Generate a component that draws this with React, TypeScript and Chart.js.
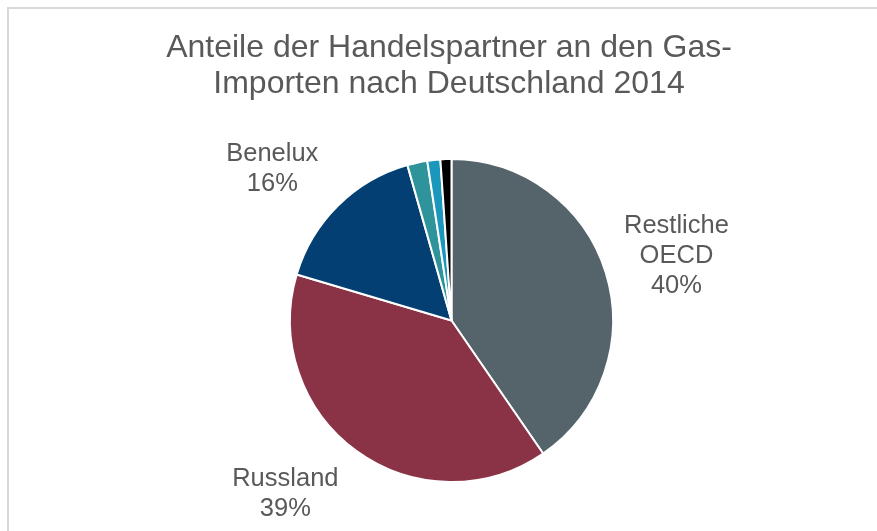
import React, { useEffect, useRef } from "react";
import { Chart, registerables } from "chart.js";

Chart.register(...registerables);

const titleLines = ["Anteile der Handelspartner an den Gas-", "Importen nach Deutschland 2014"];
const categories = ["Restliche OECD", "Russland", "Benelux", "Sonstige A", "Sonstige B", "Sonstige C"];
const labelLines = [["Restliche", "OECD"], ["Russland"], ["Benelux"], null, null, null];
const shares = [40.4, 39.2, 16.0, 2.0, 1.3, 1.1];
const sliceColors = ["#55636B", "#8B3346", "#033F72", "#2E939B", "#1A97BA", "#000000"];
// label placement relative to each slice's mid angle: angle shift (deg), distance beyond radius (px)
const labelPlacement = [
  { shift: 1.3, offset: 72.5 },
  { shift: 7.7, offset: 79 },
  { shift: -5.2, offset: 73 },
  null,
  null,
  null,
];

const FONT = '"Liberation Sans", Arial, sans-serif';
const TEXT_COLOR = "#595959";

const framePlugin = {
  id: "frame",
  beforeDraw(chart: any) {
    const { ctx, width, height } = chart;
    ctx.save();
    ctx.fillStyle = "#ffffff";
    ctx.fillRect(0, 0, width, height);
    ctx.strokeStyle = "#d9d9d9";
    ctx.lineWidth = 2;
    ctx.beginPath();
    ctx.moveTo(8, height);
    ctx.lineTo(8, 8);
    ctx.lineTo(width, 8);
    ctx.stroke();
    ctx.restore();
  },
};

const titlePlugin = {
  id: "customTitle",
  afterDraw(chart: any) {
    const { ctx } = chart;
    ctx.save();
    ctx.fillStyle = TEXT_COLOR;
    ctx.font = `32px ${FONT}`;
    ctx.textAlign = "center";
    ctx.textBaseline = "alphabetic";
    titleLines.forEach((t, i) => ctx.fillText(t, 449, 57 + i * 36));
    ctx.restore();
  },
};

const sliceLabelPlugin = {
  id: "sliceLabels",
  afterDatasetsDraw(chart: any) {
    const { ctx } = chart;
    const meta = chart.getDatasetMeta(0);
    ctx.save();
    ctx.fillStyle = TEXT_COLOR;
    ctx.font = `25.5px ${FONT}`;
    ctx.textAlign = "center";
    ctx.textBaseline = "middle";
    meta.data.forEach((arc: any, i: number) => {
      const place = labelPlacement[i];
      const names = labelLines[i];
      if (!place || !names) return;
      const { x, y, startAngle, endAngle, outerRadius } = arc.getProps(
        ["x", "y", "startAngle", "endAngle", "outerRadius"],
        true
      );
      const mid = (startAngle + endAngle) / 2 + (place.shift * Math.PI) / 180;
      const r = outerRadius + place.offset;
      const cx = x + r * Math.cos(mid);
      const cy = y + r * Math.sin(mid);
      const lines = [...names, `${Math.round(shares[i])}%`];
      const lh = 30;
      const top = cy - ((lines.length - 1) * lh) / 2;
      lines.forEach((l, k) => ctx.fillText(l, cx, top + k * lh));
    });
    ctx.restore();
  },
};

export default function App() {
  const ref = useRef<HTMLCanvasElement | null>(null);
  useEffect(() => {
    if (!ref.current) return;
    const chart = new Chart(ref.current, {
      type: "pie",
      data: {
        labels: categories,
        datasets: [
          {
            data: shares,
            backgroundColor: sliceColors,
            borderColor: "#ffffff",
            borderWidth: 2,
          },
        ],
      },
      options: {
        animation: false,
        responsive: false,
        layout: { padding: { left: 289, right: 263, top: 158, bottom: 48 } },
        plugins: {
          legend: { display: false },
          tooltip: { enabled: false },
          title: { display: false },
        },
      },
      plugins: [framePlugin, titlePlugin, sliceLabelPlugin],
    });
    return () => chart.destroy();
  }, []);
  return (
    <div style={{ position: "fixed", left: 0, top: 0, width: 877, height: 531, background: "#fff" }}>
      <canvas ref={ref} width={877} height={531} style={{ width: 877, height: 531, display: "block" }} />
    </div>
  );
}
